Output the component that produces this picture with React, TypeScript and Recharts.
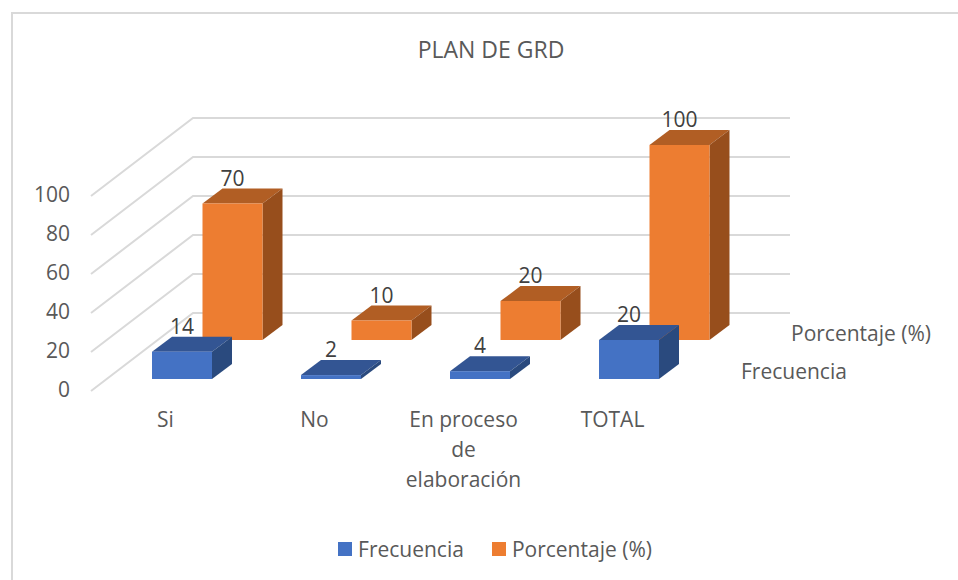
import { Bar, BarChart, CartesianGrid, LabelList, Legend, XAxis, YAxis } from 'recharts';

const categories = ['Si', 'No', 'En proceso|de|elaboración', 'TOTAL'];
const frecuencia = [14, 2, 4, 20];
const porcentaje = [70, 10, 20, 100];
const yTicks = [0, 20, 40, 60, 80, 100];

const data = categories.map((name, i) => ({
  name,
  frecuencia: frecuencia[i],
  porcentaje: porcentaje[i],
}));

const FONT = '"Open Sans", sans-serif';
const TEXT = '#595959';
const LABEL = '#404040';
const GRID = '#D9D9D9';

// how far the 3D box runs backwards
const DEPTH_X = 20;
const DEPTH_Y = -15;

const FRONT = { dx: 16, dy: -12, face: '#4472C4', top: '#335593', side: '#2A4A7E' };
const BACK = { dx: 66.5, dy: -51, face: '#ED7D31', top: '#B15E24', side: '#974E1C' };

type Row = typeof FRONT;

const box3d = (row: Row) => (props: any) => {
  const x = props.x + row.dx;
  const y = props.y + row.dy;
  const { width: w, height: h } = props;
  return (
    <g>
      <polygon
        points={`${x},${y} ${x + DEPTH_X},${y + DEPTH_Y} ${x + w + DEPTH_X},${y + DEPTH_Y} ${x + w},${y}`}
        fill={row.top}
      />
      <polygon
        points={`${x + w},${y} ${x + w + DEPTH_X},${y + DEPTH_Y} ${x + w + DEPTH_X},${y + h + DEPTH_Y} ${x + w},${y + h}`}
        fill={row.side}
      />
      <rect x={x} y={y} width={w} height={h} fill={row.face} />
    </g>
  );
};

const boxLabel = (row: Row) => (props: any) => (
  <text
    x={props.x + row.dx + props.width / 2}
    y={props.y + row.dy - 26}
    textAnchor="middle"
    dominantBaseline="central"
    fontFamily={FONT}
    fontSize={21}
    fill={LABEL}
  >
    {props.value}
  </text>
);

// each gridline runs up the side wall and then along the back wall
const wallLine = (props: any) => (
  <path
    key={props.key}
    d={`M${props.x1},${props.y1} L${props.x1 + 102},${props.y1 - 78} L${props.x2 + 103},${props.y1 - 78}`}
    fill="none"
    stroke={GRID}
    strokeWidth={2}
  />
);

const CategoryTick = ({ x, y, payload }: any) => (
  <text textAnchor="middle" fontFamily={FONT} fontSize={21} fill={TEXT}>
    {String(payload.value)
      .split('|')
      .map((line, i) => (
        <tspan key={line} x={x} y={y + 28 + i * 30}>
          {line}
        </tspan>
      ))}
  </text>
);

const ChartLegend = ({ payload }: any) => (
  <div style={{ display: 'flex', justifyContent: 'center', gap: 28, fontFamily: FONT, fontSize: 21, color: TEXT }}>
    {(payload ?? []).map((item: any) => (
      <span key={item.value} style={{ display: 'flex', alignItems: 'center', gap: 6 }}>
        <span style={{ width: 14, height: 14, background: item.color, display: 'inline-block' }} />
        {item.value}
      </span>
    ))}
  </div>
);

export default function App() {
  return (
    <div style={{ position: 'absolute', left: 0, top: 0, width: 958, height: 580, background: '#fff' }}>
      <div
        style={{
          position: 'absolute',
          left: 11,
          top: 12,
          width: 960,
          height: 580,
          border: `2px solid ${GRID}`,
          boxSizing: 'border-box',
        }}
      />
      <div style={{ position: 'absolute', left: 0, top: 0, width: 958, height: 580, overflow: 'hidden' }}>
        <BarChart
          width={958}
          height={580}
          data={data}
          barSize={60}
          barGap={-60}
          margin={{ top: 196, right: 271, bottom: 89, left: 0 }}
        >
          <CartesianGrid vertical={false} horizontal={wallLine} />
          <XAxis dataKey="name" interval={0} height={60} axisLine={false} tickLine={false} tick={<CategoryTick />} />
          <YAxis
            width={91}
            domain={[0, 100]}
            ticks={yTicks}
            axisLine={false}
            tickLine={false}
            tickSize={0}
            tickMargin={21}
            tick={{ fill: TEXT, fontFamily: FONT, fontSize: 21, dy: -1 }}
          />
          <Legend
            height={40}
            content={<ChartLegend />}
            wrapperStyle={{ left: 0, width: 990, bottom: 5 }}
          />
          <Bar
            dataKey="porcentaje"
            name="Porcentaje (%)"
            fill={BACK.face}
            shape={box3d(BACK)}
            isAnimationActive={false}
          >
            <LabelList dataKey="porcentaje" content={boxLabel(BACK)} />
          </Bar>
          <Bar
            dataKey="frecuencia"
            name="Frecuencia"
            fill={FRONT.face}
            shape={box3d(FRONT)}
            isAnimationActive={false}
          >
            <LabelList dataKey="frecuencia" content={boxLabel(FRONT)} />
          </Bar>
          <text x={491} y={58} textAnchor="middle" fontFamily={FONT} fontSize={23} fill={TEXT}>
            PLAN DE GRD
          </text>
          <text x={791} y={341} fontFamily={FONT} fontSize={21} fill={TEXT}>
            Porcentaje (%)
          </text>
          <text x={741} y={379} fontFamily={FONT} fontSize={21} fill={TEXT}>
            Frecuencia
          </text>
        </BarChart>
      </div>
    </div>
  );
}
